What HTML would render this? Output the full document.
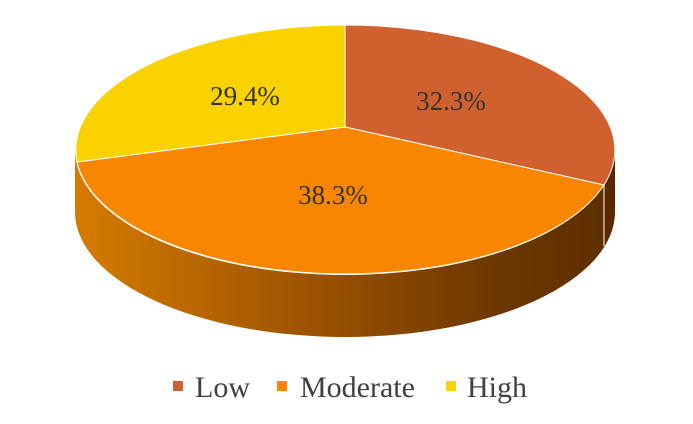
<!DOCTYPE html>
<html><head><style>html,body{margin:0;padding:0;background:#fff;}</style></head>
<body>
<svg width="693" height="424" xmlns="http://www.w3.org/2000/svg" style="display:block">
<defs>
<linearGradient id="side" x1="75" y1="0" x2="615" y2="0" gradientUnits="userSpaceOnUse">
<stop offset="0" stop-color="#D47C00"/>
<stop offset="0.35" stop-color="#A85A00"/>
<stop offset="0.8" stop-color="#6A3600"/>
<stop offset="1" stop-color="#5E2E00"/>
</linearGradient>
</defs>
<path d="M75,150 L75,212 A270,125 0 0 0 615,212 L615,150 A270,125 0 0 1 75,150 Z" fill="url(#side)"/>
<path d="M604,185 L604,245 A270,125 0 0 0 615,212 L615,150 A270,125 0 0 1 604,185 Z" fill="#5A2800"/>
<line x1="604" y1="185" x2="604" y2="246" stroke="#fff" stroke-width="1"/>
<path d="M345,127 L345,25 A270,125 0 0 1 604,185 Z" fill="#D0612E" stroke="#fff" stroke-width="1"/>
<path d="M345,127 L604,185 A270,125 0 0 1 77,162 Z" fill="#F98600" stroke="#fff" stroke-width="1"/>
<path d="M345,127 L77,162 A270,125 0 0 1 345,25 Z" fill="#FAD200" stroke="#fff" stroke-width="1"/>
<g font-family="Liberation Serif, serif" font-size="27" fill="#333" text-anchor="middle">
<text x="245" y="105">29.4%</text>
<text x="451" y="110">32.3%</text>
<text x="333" y="204">38.3%</text>
</g>
<rect x="173" y="381" width="10" height="10" fill="#D0612E"/>
<rect x="277" y="381" width="10" height="10" fill="#F98600"/>
<rect x="446" y="381" width="10" height="10" fill="#FAD200"/>
<g font-family="Liberation Serif, serif" font-size="30" fill="#404040">
<text x="195" y="397">Low</text>
<text x="300" y="397">Moderate</text>
<text x="467" y="397">High</text>
</g>
</svg>
</body></html>
